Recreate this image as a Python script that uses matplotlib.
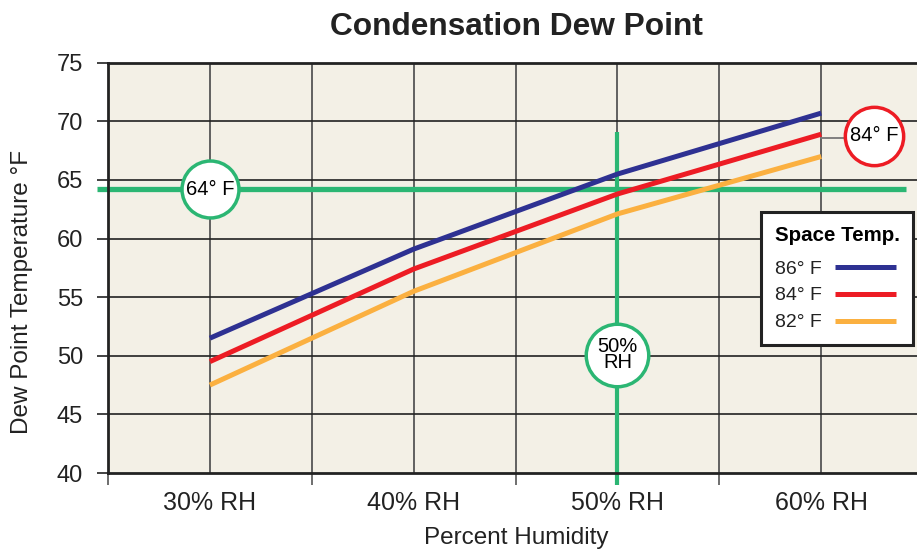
import matplotlib.pyplot as plt

plt.rcParams['font.family'] = ['Liberation Sans', 'DejaVu Sans']

# Percent relative humidity
rh = [30, 40, 50, 60]
dew_86 = [51.5, 59.1, 65.5, 70.7]
dew_84 = [49.5, 57.4, 63.8, 68.9]
dew_82 = [47.5, 55.5, 62.1, 67.0]

x_labels = ['30% RH', '40% RH', '50% RH', '60% RH']
y_ticks = [40, 45, 50, 55, 60, 65, 70, 75]

# marker lines
dew_mark = 64.2
rh_mark = 50

navy = '#2E3192'
red = '#ED1C24'
orange = '#FBB040'
green = '#2BB673'

fig = plt.figure(figsize=(9.17, 5.5), dpi=100)
ax = fig.add_axes([108 / 917, 77 / 550, 1 - 108 / 917, (473 - 62.7) / 550])
ax.set_facecolor('#F3F0E6')

ax.set_xlim(25, 64.7)
ax.set_ylim(40, 75)

# grid
for gx in [30, 35, 40, 45, 50, 55, 60]:
    ax.axvline(gx, color='#555555', lw=1.3, zorder=1)
for gy in y_ticks[1:-1]:
    ax.axhline(gy, color='#222222', lw=1.2, zorder=1)

# green reference lines
ax.plot([24.45, 64.15], [dew_mark, dew_mark], color=green, lw=3.8,
        solid_capstyle='butt', clip_on=False, zorder=2)
ax.plot([rh_mark, rh_mark], [69.1, 38.98], color=green, lw=3.0,
        solid_capstyle='butt', clip_on=False, zorder=2)

ax.plot(rh, dew_86, color=navy, lw=3.6, label='86° F', zorder=3, solid_capstyle='butt')
ax.plot(rh, dew_84, color=red, lw=3.6, label='84° F', zorder=3, solid_capstyle='butt')
ax.plot(rh, dew_82, color=orange, lw=3.6, label='82° F', zorder=3, solid_capstyle='butt')

# callout circles
ax.plot([60, 62.6], [68.6, 68.6], color='#777777', lw=1.3, zorder=2)
ax.plot([30], [dew_mark], marker='o', ms=41, mfc='white', mec=green, mew=2.5, zorder=4)
ax.text(30, dew_mark, '64° F', ha='center', va='center', fontsize=14.5, zorder=5)
ax.plot([rh_mark], [50.1], marker='o', ms=45, mfc='white', mec=green, mew=2.5, zorder=4)
ax.text(rh_mark, 50.1, '50%\nRH', ha='center', va='center', fontsize=14.5,
        linespacing=0.85, zorder=5)
ax.plot([62.6], [68.75], marker='o', ms=42, mfc='white', mec=red, mew=2.5,
        zorder=4, clip_on=False)
ax.text(62.6, 68.75, '84° F', ha='center', va='center', fontsize=14.5, zorder=5)

# axes styling
for s in ['left', 'top', 'bottom']:
    ax.spines[s].set_linewidth(2)
    ax.spines[s].set_color('#222222')
ax.spines['right'].set_visible(False)

ax.set_yticks(y_ticks)
ax.tick_params(axis='y', length=8, width=1.2, pad=10, labelsize=17, colors='#222222')
ax.set_xticks(rh)
ax.set_xticklabels(x_labels)
ax.set_xticks([25, 35, 45, 55], minor=True)
ax.tick_params(axis='x', which='major', length=0, pad=13, labelsize=18, colors='#222222')
ax.tick_params(axis='x', which='minor', length=8.5, width=1.2, color='#555555')

fig.text(516 / 917, 1 - 538 / 550, 'Percent Humidity', ha='center', va='center',
         fontsize=17.5, color='#222222')
fig.text(22 / 917, 1 - 292 / 550, 'Dew Point Temperature °F', rotation=90,
         ha='center', va='center', fontsize=17.5, color='#222222')

fig.text(516 / 917, 1 - 27 / 550, 'Condensation Dew Point', ha='center', va='center',
         fontsize=22.8, fontweight='bold', color='#222222')

leg = ax.legend(loc='upper left', bbox_to_anchor=(761 / 917, 1 - 212 / 550),
                bbox_transform=fig.transFigure, borderaxespad=0, markerfirst=False,
                fancybox=False, framealpha=1, edgecolor='#222222', title='Space Temp.',
                title_fontproperties={'weight': 'bold', 'size': 14.8},
                fontsize=14, handlelength=3.15, labelspacing=0.48,
                borderpad=0.7, handletextpad=0.7)
leg.get_frame().set_linewidth(2.2)
leg._legend_box.align = 'left'
leg._legend_box.sep = 11
for t in leg.get_texts():
    t.set_color('#222222')

fig.savefig('out.png', dpi=100)
